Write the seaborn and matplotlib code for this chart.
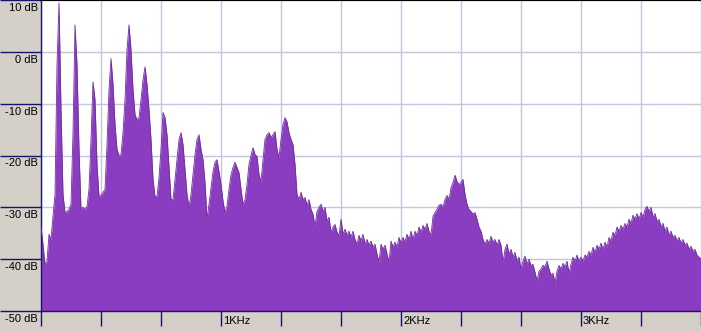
import matplotlib
matplotlib.use("Agg")
import matplotlib.pyplot as plt
import matplotlib.transforms as mtransforms
import seaborn as sns

# Frequency bins (Hz) of the spectrum
freq_hz = [
    0, 11.1, 22.2, 33.3, 44.4, 55.6, 66.7, 77.8, 88.9,
    100, 111.1, 122.2, 133.3, 144.4, 155.6, 166.7, 177.8, 188.9,
    200, 211.1, 222.2, 233.3, 244.4, 255.6, 266.7, 277.8, 288.9,
    300, 311.1, 322.2, 333.3, 344.4, 355.6, 366.7, 377.8, 388.9,
    400, 411.1, 422.2, 433.3, 444.4, 455.6, 466.7, 477.8, 488.9,
    500, 511.1, 522.2, 533.3, 544.4, 555.6, 566.7, 577.8, 588.9,
    600, 611.1, 622.2, 633.3, 644.4, 655.6, 666.7, 677.8, 688.9,
    700, 711.1, 722.2, 733.3, 744.4, 755.6, 766.7, 777.8, 788.9,
    800, 811.1, 822.2, 833.3, 844.4, 855.6, 866.7, 877.8, 888.9,
    900, 911.1, 922.2, 933.3, 944.4, 955.6, 966.7, 977.8, 988.9,
    1000, 1011.1, 1022.2, 1033.3, 1044.4, 1055.6, 1066.7, 1077.8, 1088.9,
    1100, 1111.1, 1122.2, 1133.3, 1144.4, 1155.6, 1166.7, 1177.8, 1188.9,
    1200, 1211.1, 1222.2, 1233.3, 1244.4, 1255.6, 1266.7, 1277.8, 1288.9,
    1300, 1311.1, 1322.2, 1333.3, 1344.4, 1355.6, 1366.7, 1377.8, 1388.9,
    1400, 1411.1, 1422.2, 1433.3, 1444.4, 1455.6, 1466.7, 1477.8, 1488.9,
    1500, 1511.1, 1522.2, 1533.3, 1544.4, 1555.6, 1566.7, 1577.8, 1588.9,
    1600, 1611.1, 1622.2, 1633.3, 1644.4, 1655.6, 1666.7, 1677.8, 1688.9,
    1700, 1711.1, 1722.2, 1733.3, 1744.4, 1755.6, 1766.7, 1777.8, 1788.9,
    1800, 1811.1, 1822.2, 1833.3, 1844.4, 1855.6, 1866.7, 1877.8, 1888.9,
    1900, 1911.1, 1922.2, 1933.3, 1944.4, 1955.6, 1966.7, 1977.8, 1988.9,
    2000, 2011.1, 2022.2, 2033.3, 2044.4, 2055.6, 2066.7, 2077.8, 2088.9,
    2100, 2111.1, 2122.2, 2133.3, 2144.4, 2155.6, 2166.7, 2177.8, 2188.9,
    2200, 2211.1, 2222.2, 2233.3, 2244.4, 2255.6, 2266.7, 2277.8, 2288.9,
    2300, 2311.1, 2322.2, 2333.3, 2344.4, 2355.6, 2366.7, 2377.8, 2388.9,
    2400, 2411.1, 2422.2, 2433.3, 2444.4, 2455.6, 2466.7, 2477.8, 2488.9,
    2500, 2511.1, 2522.2, 2533.3, 2544.4, 2555.6, 2566.7, 2577.8, 2588.9,
    2600, 2611.1, 2622.2, 2633.3, 2644.4, 2655.6, 2666.7, 2677.8, 2688.9,
    2700, 2711.1, 2722.2, 2733.3, 2744.4, 2755.6, 2766.7, 2777.8, 2788.9,
    2800, 2811.1, 2822.2, 2833.3, 2844.4, 2855.6, 2866.7, 2877.8, 2888.9,
    2900, 2911.1, 2922.2, 2933.3, 2944.4, 2955.6, 2966.7, 2977.8, 2988.9,
    3000, 3011.1, 3022.2, 3033.3, 3044.4, 3055.6, 3066.7, 3077.8, 3088.9,
    3100, 3111.1, 3122.2, 3133.3, 3144.4, 3155.6, 3166.7, 3177.8, 3188.9,
    3200, 3211.1, 3222.2, 3233.3, 3244.4, 3255.6, 3266.7, 3277.8, 3288.9,
    3300, 3311.1, 3322.2, 3333.3, 3344.4, 3355.6, 3366.7, 3377.8, 3388.9,
    3400, 3411.1, 3422.2, 3433.3, 3444.4, 3455.6, 3466.7, 3477.8, 3488.9,
    3500, 3511.1, 3522.2, 3533.3, 3544.4, 3555.6, 3566.7, 3577.8, 3588.9,
    3600, 3611.1, 3622.2, 3633.3, 3644.4, 3655.6, 3666.7,
]

# Spectrum level (dB)
level_db = [
    -33.8, -37.1, -41.0, -40.4, -35.2, -36.2, -31.7, -27.5, -2.5, 9.4,
    -11.2, -27.5, -31.0, -30.8, -30.4, -29.4, -15.6, 5.2, -2.5, -18.8,
    -30.4, -30.0, -30.4, -29.8, -26.5, -16.9, -5.8, -9.2, -21.7, -27.9,
    -27.7, -27.1, -26.5, -17.9, -7.3, -1.3, -6.3, -14.0, -18.8, -20.0,
    -19.8, -15.6, -9.2, 0.4, 5.2, 0.4, -7.3, -12.1, -13.1, -12.7,
    -9.2, -5.4, -2.9, -6.3, -11.2, -16.9, -24.6, -27.9, -27.9, -24.2,
    -18.8, -11.7, -12.7, -16.0, -22.1, -28.5, -28.5, -24.6, -20.8, -16.9,
    -15.6, -17.9, -22.7, -27.5, -30.0, -27.5, -23.7, -19.8, -16.9, -16.0,
    -18.8, -20.8, -25.2, -32.3, -29.4, -26.2, -23.1, -21.3, -20.8, -23.1,
    -25.6, -28.8, -31.0, -29.8, -26.5, -23.7, -22.3, -21.3, -22.3, -23.3,
    -26.5, -29.4, -28.5, -25.6, -21.7, -20.0, -18.5, -19.8, -20.2, -23.7,
    -25.0, -20.8, -16.9, -16.0, -15.6, -16.5, -16.0, -15.4, -18.8, -20.4,
    -16.9, -14.0, -12.7, -13.5, -15.6, -16.9, -17.9, -21.7, -27.5, -28.5,
    -27.1, -28.5, -28.1, -29.6, -28.5, -30.4, -31.3, -33.7, -30.8, -30.0,
    -29.4, -30.8, -30.0, -32.7, -31.9, -34.8, -33.8, -33.3, -34.8, -35.4,
    -32.3, -35.2, -34.2, -35.4, -34.6, -35.8, -34.6, -36.2, -37.1, -35.4,
    -36.5, -35.2, -37.1, -36.2, -37.3, -36.5, -37.7, -37.1, -39.0, -40.6,
    -37.1, -38.1, -37.3, -39.0, -40.6, -36.5, -37.7, -36.7, -37.7, -35.8,
    -36.9, -35.8, -36.7, -35.2, -36.2, -34.6, -36.2, -34.6, -35.4, -33.8,
    -34.8, -33.5, -34.2, -33.1, -34.6, -35.4, -31.7, -31.0, -30.4, -29.6,
    -29.4, -30.0, -28.5, -27.7, -28.5, -26.2, -25.2, -23.8, -25.0, -25.6,
    -25.2, -24.6, -27.5, -29.4, -30.4, -30.8, -31.3, -31.0, -32.3, -33.8,
    -34.6, -36.2, -37.1, -36.2, -36.9, -35.6, -36.7, -36.2, -37.3, -36.2,
    -37.3, -40.6, -38.1, -37.1, -39.0, -38.1, -39.6, -38.7, -40.4, -39.6,
    -41.9, -40.4, -39.4, -41.0, -40.0, -41.2, -41.0, -42.5, -44.2, -42.3,
    -41.9, -41.2, -41.5, -40.4, -41.9, -43.1, -42.7, -44.6, -42.3, -41.2,
    -41.9, -40.8, -41.5, -40.4, -42.7, -41.0, -39.6, -40.4, -39.2, -40.4,
    -39.6, -40.4, -39.2, -39.6, -38.5, -39.2, -37.7, -38.7, -37.3, -38.1,
    -36.9, -38.1, -36.7, -37.7, -35.8, -36.5, -34.8, -35.4, -33.8, -34.6,
    -33.5, -34.2, -33.1, -33.8, -32.3, -33.1, -31.5, -32.3, -31.2, -32.3,
    -31.0, -31.9, -30.4, -29.8, -30.8, -30.0, -31.9, -31.2, -32.7, -32.3,
    -33.8, -33.1, -34.6, -33.8, -35.4, -34.6, -35.8, -35.4, -36.5, -35.8,
    -36.9, -36.2, -37.3, -36.9, -38.1, -37.5, -38.5, -38.1, -39.2, -39.6,
    -40.0,
]

y_ticks_db = [10, 0, -10, -20, -30, -40, -50]
y_tick_labels = ["10 dB", "0 dB", "-10 dB", "-20 dB", "-30 dB", "-40 dB", "-50 dB"]
x_ticks_hz = [0, 333.3, 666.7, 1000, 1333.3, 1666.7, 2000, 2333.3, 2666.7, 3000, 3333.3, 3666.7]
x_tick_labels = ["", "", "", "1KHz", "", "", "2KHz", "", "", "3KHz", "", ""]

sns.set_style("white")
plt.rcParams['font.family'] = ['Liberation Sans', 'DejaVu Sans']

GREY = '#D4D0C8'
NAVY = '#14146e'
PURPLE = '#8A3DC0'
GRID = '#C6C6DA'

fig = plt.figure(figsize=(7.01, 3.32), dpi=100, facecolor=GREY)
ax = fig.add_axes([41 / 701, 21 / 332, 660 / 701, 311 / 332])
ax.set_facecolor('white')

ax.fill_between(freq_hz, level_db, -50, color=PURPLE, linewidth=0, zorder=2)
sns.lineplot(x=freq_hz, y=level_db, ax=ax, color='#6E2E9E', linewidth=0.6, zorder=3)

ax.set_xlim(0, 3666.7)
ax.set_ylim(-50, 10)
ax.set_xticks(x_ticks_hz)
ax.set_yticks(y_ticks_db)
ax.grid(True, color=GRID, linewidth=1)
ax.set_axisbelow(True)

ax.tick_params(axis='x', direction='out', length=10.8, width=1, color=NAVY,
               labelbottom=False, bottom=True)
ax.tick_params(axis='y', direction='out', length=29.5, width=1, color=NAVY,
               labelleft=False, left=True)

for side in ['right']:
    ax.spines[side].set_visible(False)
ax.spines['top'].set_color('black')
ax.spines['top'].set_linewidth(1.5)
ax.spines['left'].set_color(NAVY)
ax.spines['bottom'].set_color(NAVY)
ax.spines['left'].set_linewidth(1)
ax.spines['bottom'].set_linewidth(1)

# y labels: right aligned, just below each tick line
ytrans = mtransforms.blended_transform_factory(ax.transAxes, ax.transData)
ytrans = mtransforms.offset_copy(ytrans, fig=fig, x=-3, y=-8, units='dots')
for v, lab in zip(y_ticks_db, y_tick_labels):
    ax.text(0, v, lab, transform=ytrans, ha='right', va='center',
            fontsize=8, color='black', clip_on=False)

# x labels: left aligned, just right of each tick
xtrans = mtransforms.blended_transform_factory(ax.transData, ax.transAxes)
xtrans = mtransforms.offset_copy(xtrans, fig=fig, x=2, y=-10, units='dots')
for v, lab in zip(x_ticks_hz, x_tick_labels):
    if lab:
        ax.text(v, 0, lab, transform=xtrans, ha='left', va='center',
                fontsize=8, color='black', clip_on=False)

fig.savefig('out.png', dpi=100, facecolor=GREY)
